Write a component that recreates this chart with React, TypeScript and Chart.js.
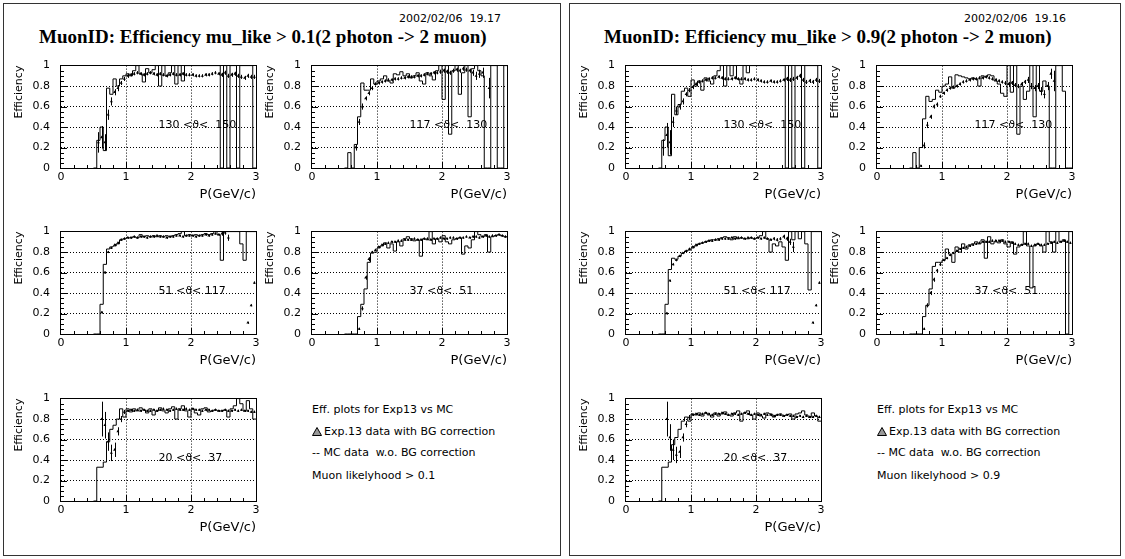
import React, { useEffect, useRef } from 'react';
import { Chart, registerables } from 'chart.js';

Chart.register(...registerables);
Chart.defaults.font.family = "'DejaVu Sans', sans-serif";

// ---------- data ----------
const X_MIN = 0;
const X_MAX = 3;
const BIN_WIDTH = 0.05;
// lower bin edges (GeV/c)
const BIN_LOW = [
  0.50, 0.55, 0.60, 0.65, 0.70, 0.75, 0.80, 0.85, 0.90, 0.95,
  1.00, 1.05, 1.10, 1.15, 1.20, 1.25, 1.30, 1.35, 1.40, 1.45,
  1.50, 1.55, 1.60, 1.65, 1.70, 1.75, 1.80, 1.85, 1.90, 1.95,
  2.00, 2.05, 2.10, 2.15, 2.20, 2.25, 2.30, 2.35, 2.40, 2.45,
  2.50, 2.55, 2.60, 2.65, 2.70, 2.75, 2.80, 2.85, 2.90, 2.95,
];
const X_TICKS = [0, 1, 2, 3];
const Y_TICKS = [0, 0.2, 0.4, 0.6, 0.8, 1];

const THETA_LABELS = ['130 <\u03d1<  150', '117 <\u03d1<  130', '51 <\u03d1< 117', '37 <\u03d1<  51', '20 <\u03d1<  37'];

// ===== mu_like > 0.1 =====
const mc01_130 = [
  0, 0.27, 0.40, 0.17, 0.78, 0.72, 0.87, 0.80, 0.87, 0.90,
  0.92, 0.90, 0.95, 1.00, 0.92, 0.84, 0.97, 0.93, 0.96, 1.00,
  0.80, 1.00, 0.90, 0.93, 1.00, 0.82, 1.00, 0.85, 1.00, 1.00,
  1.00, 1.00, 1.00, 1.00, 1.00, 1.00, 1.00, 1.00, 1.00, 0,
  1.00, 0, 1.00, 1.00, 0, 1.00, 1.00, 1.00, 1.00, 0,
];
const exp01_130 = [
  null, 0.25, 0.30, 0.25, 0.52, 0.65, 0.74, 0.78, 0.83, 0.87,
  0.90, 0.91, 0.92, 0.93, 0.92, 0.91, 0.92, 0.93, 0.92, 0.91,
  0.92, 0.91, 0.90, 0.91, 0.92, 0.91, 0.91, 0.92, 0.91, 0.91,
  0.91, 0.90, 0.90, 0.90, 0.91, 0.91, 0.92, 0.93, 0.92, 0.91,
  0.93, 0.90, 0.91, 0.92, 0.90, 0.89, 0.88, 0.90, 0.89, 0.89,
];
const err01_130 = [
  0, 0.10, 0.11, 0.08, 0.05, 0.04, 0.03, 0.03, 0.02, 0.02,
  0.02, 0.015, 0.015, 0.015, 0.015, 0.015, 0.015, 0.015, 0.015, 0.015,
  0.015, 0.015, 0.015, 0.015, 0.015, 0.015, 0.015, 0.015, 0.015, 0.015,
  0.015, 0.015, 0.015, 0.015, 0.015, 0.015, 0.015, 0.015, 0.015, 0.02,
  0.02, 0.02, 0.02, 0.02, 0.02, 0.02, 0.02, 0.02, 0.02, 0.02,
];

const mc01_117 = [
  0, 0.15, 0, 0.23, 0.50, 0.83, 0.76, 0.76, 0.87, 0.82,
  0.85, 0.87, 0.90, 0.85, 0.83, 0.92, 0.91, 0.94, 0.90, 0.92,
  0.88, 0.90, 0.93, 0.85, 0.82, 0.93, 0.90, 0.86, 0.95, 1.00,
  0.67, 1.00, 0.33, 0.95, 1.00, 0.72, 0.93, 1.00, 0.50, 0.97,
  1.00, 0.95, 0.90, 0, 0, 1.00, 1.00, 0, 0, 1.00,
];
const exp01_117 = [
  null, null, null, 0.20, 0.45, 0.60, 0.68, 0.73, 0.78, 0.82,
  0.83, 0.84, 0.85, 0.86, 0.86, 0.87, 0.87, 0.88, 0.88, 0.89,
  0.89, 0.89, 0.90, 0.90, 0.91, 0.92, 0.92, 0.93, 0.93, 0.94,
  0.95, 0.94, 0.93, 0.95, 0.96, 0.95, 0.97, 0.96, 0.95, 0.93,
  0.90, 0.92, 0.93, null, 0.78, null, null, null, null, null,
];
const err01_117 = [
  0, 0, 0, 0.03, 0.03, 0.03, 0.02, 0.02, 0.02, 0.015,
  0.015, 0.015, 0.015, 0.015, 0.015, 0.015, 0.015, 0.015, 0.015, 0.015,
  0.015, 0.015, 0.015, 0.015, 0.015, 0.015, 0.015, 0.015, 0.015, 0.02,
  0.02, 0.02, 0.02, 0.02, 0.02, 0.02, 0.02, 0.02, 0.02, 0.03,
  0.04, 0.04, 0.05, 0, 0.10, 0, 0, 0, 0, 0,
];

const mc01_51 = [
  0, 0, 0.29, 0.68, 0.83, 0.85, 0.86, 0.88, 0.92, 0.93,
  0.94, 0.94, 0.95, 0.94, 0.97, 0.95, 0.96, 0.95, 0.96, 0.95,
  0.96, 0.95, 0.96, 0.95, 0.96, 0.97, 0.98, 1.00, 0.96, 0.97,
  0.96, 0.97, 0.96, 0.97, 0.98, 0.97, 0.98, 1.00, 0.97, 0.72,
  1.00, 1.00, 1.00, 1.00, 1.00, 0.88, 0.72, 1.00, 1.00, 1.00,
];
const exp01_51 = [
  null, null, 0.21, 0.60, 0.80, 0.84, 0.87, 0.89, 0.92, 0.93,
  0.94, 0.94, 0.95, 0.94, 0.95, 0.95, 0.94, 0.95, 0.95, 0.96,
  0.95, 0.95, 0.94, 0.95, 0.95, 0.96, 0.96, 0.95, 0.96, 0.96,
  0.96, 0.95, 0.96, 0.96, 0.97, 0.96, 0.97, 0.98, 0.97, 0.98,
  0.99, 0.94, null, null, null, null, null, 0.11, 0.28, 0.50,
];
const err01_51 = [
  0, 0, 0.01, 0.01, 0.01, 0.01, 0.01, 0.01, 0.01, 0.01,
  0.01, 0.01, 0.01, 0.01, 0.01, 0.01, 0.01, 0.01, 0.01, 0.01,
  0.01, 0.01, 0.01, 0.01, 0.01, 0.01, 0.01, 0.01, 0.01, 0.01,
  0.01, 0.01, 0.01, 0.01, 0.01, 0.01, 0.01, 0.01, 0.01, 0.02,
  0.02, 0.03, 0, 0, 0, 0, 0, 0.01, 0.01, 0.01,
];

const mc01_37 = [
  0, 0, 0, 0, 0.17, 0.29, 0.44, 0.70, 0.79, 0.80,
  0.84, 0.86, 0.89, 0.84, 0.88, 0.81, 0.90, 0.86, 0.93, 0.95,
  0.93, 0.91, 0.92, 0.76, 0.93, 0.92, 1.00, 0.88, 0.93, 0.90,
  0.96, 0.90, 0.88, 0.92, 0.93, 0.94, 0.78, 0.86, 0.84, 0.92,
  1.00, 0.97, 0.95, 0.97, 0.80, 0.95, 0.96, 0.97, 0.96, 0.95,
];
const exp01_37 = [
  null, null, null, null, 0.05, 0.25, 0.55, 0.73, 0.80, 0.82,
  0.85, 0.87, 0.88, 0.89, 0.90, 0.90, 0.91, 0.91, 0.92, 0.92,
  0.92, 0.93, 0.92, 0.92, 0.93, 0.93, 0.92, 0.93, 0.93, 0.94,
  0.93, 0.93, 0.94, 0.94, 0.93, 0.94, 0.94, 0.95, 0.94, 0.95,
  0.95, 0.94, 0.95, 0.96, 0.95, 0.96, 0.96, 0.97, 0.96, 0.95,
];
const err01_37 = [
  0, 0, 0, 0, 0.01, 0.02, 0.02, 0.02, 0.01, 0.01,
  0.01, 0.01, 0.01, 0.01, 0.01, 0.01, 0.01, 0.01, 0.01, 0.01,
  0.01, 0.01, 0.01, 0.01, 0.01, 0.01, 0.01, 0.01, 0.01, 0.01,
  0.01, 0.01, 0.01, 0.01, 0.01, 0.01, 0.01, 0.01, 0.01, 0.01,
  0.01, 0.01, 0.01, 0.01, 0.01, 0.01, 0.01, 0.01, 0.01, 0.01,
];

const mc01_20 = [
  0, 0.33, 0.33, 0.38, 0.58, 0.70, 0.74, 0.80, 0.90, 0.82,
  0.90, 0.87, 0.90, 0.88, 0.91, 0.89, 0.86, 0.90, 0.84, 0.88,
  0.91, 0.88, 0.86, 0.90, 0.92, 0.80, 0.90, 0.93, 0.88, 0.82,
  0.90, 0.86, 0.84, 0.90, 0.91, 0.87, 0.88, 0.89, 0.88, 0.88,
  0.89, 0.82, 0.90, 0.93, 1.00, 0.95, 0.88, 0.98, 0.90, 0.80,
];
const exp01_20 = [
  null, null, 0.80, 0.74, 0.58, 0.47, 0.50, 0.68, 0.80, 0.87,
  0.88, 0.89, 0.88, 0.89, 0.88, 0.89, 0.88, 0.88, 0.89, 0.88,
  0.89, 0.90, 0.89, 0.88, 0.89, 0.90, 0.89, 0.89, 0.90, 0.89,
  0.90, 0.89, 0.89, 0.88, 0.89, 0.89, 0.88, 0.89, 0.88, 0.88,
  0.89, 0.88, 0.88, 0.89, 0.88, 0.89, 0.88, 0.88, 0.87, 0.87,
];
const err01_20 = [
  0, 0, 0.17, 0.13, 0.09, 0.08, 0.07, 0.04, 0.03, 0.02,
  0.01, 0.01, 0.01, 0.01, 0.01, 0.01, 0.01, 0.01, 0.01, 0.01,
  0.01, 0.01, 0.01, 0.01, 0.01, 0.01, 0.01, 0.01, 0.01, 0.01,
  0.01, 0.01, 0.01, 0.01, 0.01, 0.01, 0.01, 0.01, 0.01, 0.01,
  0.01, 0.01, 0.01, 0.01, 0.01, 0.01, 0.01, 0.01, 0.01, 0.01,
];

// ===== mu_like > 0.9 =====
const mc09_130 = [
  0, 0.27, 0.40, 0.12, 0.72, 0.52, 0.62, 0.75, 0.78, 0.70,
  0.86, 0.80, 0.85, 0.76, 0.88, 0.85, 0.82, 0.90, 0.95, 1.00,
  0.80, 1.00, 0.90, 1.00, 0.87, 0.82, 1.00, 0.93, 1.00, 1.00,
  1.00, 1.00, 1.00, 1.00, 1.00, 1.00, 1.00, 1.00, 1.00, 0,
  1.00, 0, 1.00, 1.00, 0, 1.00, 1.00, 1.00, 1.00, 0,
];
const exp09_130 = [
  null, 0.20, 0.32, 0.25, 0.45, 0.56, 0.60, 0.65, 0.72, 0.76,
  0.79, 0.82, 0.84, 0.85, 0.86, 0.87, 0.88, 0.88, 0.89, 0.88,
  0.87, 0.87, 0.87, 0.88, 0.87, 0.87, 0.87, 0.86, 0.86, 0.87,
  0.86, 0.85, 0.84, 0.84, 0.85, 0.84, 0.84, 0.85, 0.86, 0.87,
  0.86, 0.87, 0.88, 0.90, 0.86, 0.84, 0.85, 0.84, 0.86, 0.85,
];
const err09_130 = [
  0, 0.08, 0.12, 0.12, 0.05, 0.04, 0.03, 0.03, 0.02, 0.02,
  0.02, 0.015, 0.015, 0.015, 0.015, 0.015, 0.015, 0.015, 0.015, 0.015,
  0.015, 0.015, 0.015, 0.015, 0.015, 0.015, 0.015, 0.015, 0.015, 0.015,
  0.015, 0.015, 0.015, 0.015, 0.015, 0.015, 0.015, 0.015, 0.015, 0.02,
  0.02, 0.02, 0.02, 0.02, 0.02, 0.02, 0.02, 0.02, 0.02, 0.02,
];

const mc09_117 = [
  0, 0.15, 0, 0.20, 0.48, 0.70, 0.65, 0.67, 0.76, 0.74,
  0.80, 0.82, 0.89, 0.78, 0.91, 0.90, 0.89, 0.88, 0.87, 0.88,
  0.87, 0.80, 0.90, 0.89, 0.91, 0.90, 0.85, 0.82, 0.73, 0.70,
  1.00, 0.74, 1.00, 0.33, 0.80, 0.67, 0.75, 1.00, 0.50, 1.00,
  0.75, 0.85, 0.80, 0, 0, 1.00, 1.00, 0.75, 0, 0,
];
const exp09_117 = [
  null, null, null, 0.02, 0.22, 0.42, 0.50, 0.60, 0.62, 0.70,
  0.73, 0.76, 0.78, 0.79, 0.80, 0.82, 0.84, 0.85, 0.86, 0.87,
  0.87, 0.88, 0.88, 0.89, 0.88, 0.87, 0.86, 0.85, 0.84, 0.83,
  0.82, 0.83, 0.81, 0.80, 0.82, 0.84, 0.86, 0.80, 0.78, 0.80,
  0.75, 0.72, 0.80, 0.92, 0.85, null, null, null, null, null,
];
const err09_117 = [
  0, 0, 0, 0.01, 0.03, 0.03, 0.02, 0.02, 0.02, 0.015,
  0.015, 0.015, 0.015, 0.015, 0.015, 0.015, 0.015, 0.015, 0.015, 0.015,
  0.015, 0.015, 0.015, 0.015, 0.015, 0.015, 0.015, 0.015, 0.015, 0.02,
  0.02, 0.02, 0.02, 0.02, 0.02, 0.02, 0.03, 0.03, 0.03, 0.03,
  0.04, 0.04, 0.04, 0.05, 0.10, 0, 0, 0, 0, 0,
];

const mc09_51 = [
  0, 0, 0.29, 0.63, 0.74, 0.73, 0.76, 0.79, 0.81, 0.82,
  0.84, 0.86, 0.88, 0.89, 0.90, 0.91, 0.92, 0.92, 0.93, 0.94,
  0.95, 0.94, 0.92, 0.95, 0.93, 0.94, 0.93, 0.93, 0.94, 0.93,
  0.94, 0.96, 1.00, 0.93, 0.80, 0.88, 0.86, 0.90, 0.85, 0.72,
  1.00, 0.92, 1.00, 0.93, 1.00, 0.88, 0.43, 1.00, 1.00, 1.00,
];
const exp09_51 = [
  null, null, 0.20, 0.52, 0.68, 0.72, 0.76, 0.79, 0.81, 0.83,
  0.85, 0.87, 0.88, 0.89, 0.90, 0.91, 0.91, 0.92, 0.92, 0.93,
  0.93, 0.93, 0.94, 0.93, 0.94, 0.94, 0.93, 0.94, 0.94, 0.93,
  0.94, 0.93, 0.94, 0.93, 0.92, 0.93, 0.92, 0.93, 0.95, 0.93,
  0.90, 0.85, null, null, null, null, null, 0.11, 0.28, 0.50,
];
const err09_51 = [
  0, 0, 0.01, 0.01, 0.01, 0.01, 0.01, 0.01, 0.01, 0.01,
  0.01, 0.01, 0.01, 0.01, 0.01, 0.01, 0.01, 0.01, 0.01, 0.01,
  0.01, 0.01, 0.01, 0.01, 0.01, 0.01, 0.01, 0.01, 0.01, 0.01,
  0.01, 0.01, 0.01, 0.01, 0.01, 0.015, 0.015, 0.015, 0.02, 0.02,
  0.03, 0.05, 0, 0, 0, 0, 0, 0.01, 0.01, 0.01,
];

const mc09_37 = [
  0, 0, 0, 0, 0.17, 0.28, 0.44, 0.66, 0.70, 0.70,
  0.72, 0.83, 0.78, 0.70, 0.85, 0.80, 0.88, 0.83, 0.87, 0.88,
  0.90, 0.88, 0.92, 0.74, 0.95, 0.88, 0.90, 0.89, 0.92, 0.88,
  0.85, 0.90, 0.78, 0.85, 0.87, 1.00, 0.86, 0.45, 0.86, 0.88,
  0.86, 0.80, 1.00, 0.90, 0.80, 1.00, 0.90, 0.92, 0, 1.00,
];
const exp09_37 = [
  null, null, null, null, 0.05, 0.28, 0.40, 0.53, 0.62, 0.68,
  0.72, 0.74, 0.77, 0.79, 0.81, 0.83, 0.84, 0.85, 0.86, 0.87,
  0.88, 0.89, 0.90, 0.90, 0.90, 0.91, 0.91, 0.91, 0.91, 0.90,
  0.90, 0.89, 0.88, 0.87, 0.87, 0.88, 0.88, 0.86, 0.87, 0.88,
  0.87, 0.87, 0.88, 0.89, 0.90, 0.89, 0.90, 0.91, 0.90, 0.89,
];
const err09_37 = [
  0, 0, 0, 0, 0.01, 0.02, 0.02, 0.02, 0.015, 0.015,
  0.01, 0.01, 0.01, 0.01, 0.01, 0.01, 0.01, 0.01, 0.01, 0.01,
  0.01, 0.01, 0.01, 0.01, 0.01, 0.01, 0.01, 0.01, 0.01, 0.01,
  0.01, 0.01, 0.01, 0.01, 0.01, 0.01, 0.01, 0.01, 0.01, 0.01,
  0.01, 0.01, 0.01, 0.01, 0.01, 0.01, 0.01, 0.01, 0.01, 0.01,
];

const mc09_20 = [
  0, 0.33, 0.33, 0.38, 0.55, 0.62, 0.70, 0.78, 0.82, 0.78,
  0.85, 0.84, 0.86, 0.83, 0.86, 0.84, 0.82, 0.86, 0.83, 0.85,
  0.87, 0.84, 0.83, 0.86, 0.88, 0.78, 0.86, 0.88, 0.84, 0.80,
  0.86, 0.83, 0.81, 0.86, 0.85, 0.82, 0.84, 0.85, 0.83, 0.84,
  0.85, 0.80, 0.85, 0.86, 0.88, 0.84, 0.82, 0.86, 0.83, 0.78,
];
const exp09_20 = [
  null, null, 0.80, 0.62, 0.50, 0.45, 0.48, 0.62, 0.75, 0.82,
  0.84, 0.85, 0.84, 0.85, 0.86, 0.85, 0.84, 0.85, 0.85, 0.86,
  0.85, 0.84, 0.85, 0.85, 0.84, 0.85, 0.86, 0.85, 0.84, 0.85,
  0.84, 0.84, 0.85, 0.84, 0.84, 0.83, 0.84, 0.84, 0.83, 0.84,
  0.83, 0.83, 0.82, 0.83, 0.82, 0.83, 0.82, 0.82, 0.83, 0.82,
];
const err09_20 = [
  0, 0, 0.17, 0.13, 0.10, 0.08, 0.06, 0.04, 0.03, 0.02,
  0.01, 0.01, 0.01, 0.01, 0.01, 0.01, 0.01, 0.01, 0.01, 0.01,
  0.01, 0.01, 0.01, 0.01, 0.01, 0.01, 0.01, 0.01, 0.01, 0.01,
  0.01, 0.01, 0.01, 0.01, 0.01, 0.01, 0.01, 0.01, 0.01, 0.01,
  0.01, 0.01, 0.01, 0.01, 0.01, 0.01, 0.01, 0.01, 0.01, 0.01,
];

// ---------- layout ----------
const AXIS_W = 48; // y-axis box width
const AXIS_H = 36; // x-axis box height
const PLOT_W = 195;
const PLOT_H = 110;
const PAD_T = 10;
const PAD_R = 10;

type Sub = { label: string; mc: number[]; exp: (number | null)[]; err: number[]; left: number; top: number };

const GRID_POS = [
  [61, 58], [312, 58], [61, 224], [312, 224], [61, 391],
];

function buildSubs(offset: number, sets: [number[], (number | null)[], number[]][]): Sub[] {
  return sets.map((s, i) => ({
    label: THETA_LABELS[i], mc: s[0], exp: s[1], err: s[2],
    left: GRID_POS[i][0] + offset, top: GRID_POS[i][1],
  }));
}

const SUBS_01 = buildSubs(0, [
  [mc01_130, exp01_130, err01_130],
  [mc01_117, exp01_117, err01_117],
  [mc01_51, exp01_51, err01_51],
  [mc01_37, exp01_37, err01_37],
  [mc01_20, exp01_20, err01_20],
]);
const SUBS_09 = buildSubs(565, [
  [mc09_130, exp09_130, err09_130],
  [mc09_117, exp09_117, err09_117],
  [mc09_51, exp09_51, err09_51],
  [mc09_37, exp09_37, err09_37],
  [mc09_20, exp09_20, err09_20],
]);

const hbookPlugin = {
  id: 'hbook',
  afterDatasetsDraw(chart: any) {
    const { ctx, scales } = chart;
    const x = scales.x, y = scales.y;
    const ds = chart.data.datasets[1];
    ctx.save();
    ctx.strokeStyle = '#000';
    ctx.lineWidth = 1;
    ds.data.forEach((pt: any) => {
      if (!pt.e) return;
      const px = Math.round(x.getPixelForValue(pt.x)) + 0.5;
      ctx.beginPath();
      ctx.moveTo(px, y.getPixelForValue(Math.max(0, pt.y - pt.e)));
      ctx.lineTo(px, y.getPixelForValue(Math.min(1, pt.y + pt.e)));
      ctx.stroke();
    });
    ctx.restore();
  },
  afterDraw(chart: any, _args: any, opts: any) {
    const { ctx, chartArea: a, scales } = chart;
    const x = scales.x, y = scales.y;
    ctx.save();
    ctx.strokeStyle = '#000';
    ctx.lineWidth = 1;
    ctx.strokeRect(Math.round(a.left) - 0.5, Math.round(a.top) - 0.5, Math.round(a.right - a.left) + 1, Math.round(a.bottom - a.top) + 1);
    ctx.beginPath();
    // x ticks every 0.2, inward
    for (let k = 1; k < 15; k++) {
      const v = k * 0.2;
      const major = Math.abs(v - Math.round(v)) < 1e-6;
      const px = Math.round(x.getPixelForValue(v)) + 0.5;
      ctx.moveTo(px, a.bottom);
      ctx.lineTo(px, a.bottom - (major ? 6 : 3));
    }
    // y ticks every 0.05, inward
    for (let k = 1; k < 20; k++) {
      const v = k * 0.05;
      const major = k % 4 === 0;
      const py = Math.round(y.getPixelForValue(v)) + 0.5;
      ctx.moveTo(a.left, py);
      ctx.lineTo(a.left + (major ? 6 : 3), py);
    }
    ctx.stroke();
    if (opts && opts.label) {
      ctx.fillStyle = '#000';
      ctx.font = "11px 'DejaVu Sans', sans-serif";
      ctx.textBaseline = 'alphabetic';
      ctx.textAlign = 'left';
      ctx.fillText(opts.label, x.getPixelForValue(1.5), y.getPixelForValue(0.4) + 1);
    }
    ctx.restore();
  },
};

function HistoPlot({ sub }: { sub: Sub }) {
  const ref = useRef<HTMLCanvasElement>(null);
  const cw = AXIS_W + PLOT_W + PAD_R;
  const chh = PAD_T + PLOT_H + AXIS_H;
  useEffect(() => {
    if (!ref.current) return;
    const mcPts = BIN_LOW.map((bx, i) => ({ x: bx, y: sub.mc[i] }));
    mcPts.push({ x: X_MAX, y: sub.mc[sub.mc.length - 1] });
    const expPts: any[] = [];
    BIN_LOW.forEach((bx, i) => {
      const v = sub.exp[i];
      if (v !== null && v !== undefined) expPts.push({ x: bx + BIN_WIDTH / 2, y: v, e: sub.err[i] });
    });
    const gridColor = (lo: number, hi: number) => (c: any) => {
      const v = c.tick ? c.tick.value : lo;
      return v > lo + 1e-6 && v < hi - 1e-6 ? '#000' : 'rgba(0,0,0,0)';
    };
    const tickFont = { family: "'DejaVu Sans', sans-serif", size: 11 };
    const chart = new Chart(ref.current, {
      type: 'scatter',
      data: {
        datasets: [
          {
            type: 'line', data: mcPts, stepped: 'before', borderColor: '#000', borderWidth: 1,
            pointRadius: 0, fill: false, tension: 0,
          } as any,
          {
            type: 'scatter', data: expPts, pointStyle: 'triangle', pointRadius: 1.7,
            backgroundColor: '#000', borderColor: '#000', borderWidth: 0,
          } as any,
        ],
      },
      options: {
        responsive: false,
        animation: false,
        events: [],
        layout: { padding: { top: PAD_T, right: PAD_R, left: 0, bottom: 0 } },
        plugins: {
          legend: { display: false },
          tooltip: { enabled: false },
          hbook: { label: sub.label },
        } as any,
        scales: {
          x: {
            type: 'linear', min: X_MIN, max: X_MAX,
            afterFit: (s: any) => { s.height = AXIS_H; },
            afterBuildTicks: (s: any) => { s.ticks = X_TICKS.map((v) => ({ value: v })); },
            ticks: { color: '#000', padding: 3, maxRotation: 0, font: tickFont, callback: (v: any) => String(Math.round(Number(v) * 10) / 10) },
            grid: { color: gridColor(X_MIN, X_MAX), drawTicks: false, lineWidth: 1 },
            border: { display: false, dash: [1, 2] },
            title: {
              display: true, text: 'P(GeV/c)', align: 'end', color: '#000',
              font: { family: "'DejaVu Sans', sans-serif", size: 13 }, padding: { top: 0, bottom: 2 },
            },
          },
          y: {
            type: 'linear', min: 0, max: 1,
            afterFit: (s: any) => { s.width = AXIS_W; },
            afterBuildTicks: (s: any) => { s.ticks = Y_TICKS.map((v) => ({ value: v })); },
            ticks: { color: '#000', padding: 11, font: tickFont, callback: (v: any) => String(Math.round(Number(v) * 10) / 10) },
            grid: { color: gridColor(0, 1), drawTicks: false, lineWidth: 1 },
            border: { display: false, dash: [1, 2] },
            title: {
              display: true, text: 'Efficiency', align: 'end', color: '#000',
              font: { family: "'DejaVu Sans', sans-serif", size: 11 }, padding: { top: 0, bottom: 0 },
            },
          },
        },
      } as any,
      plugins: [hbookPlugin as any],
    });
    return () => chart.destroy();
  }, [sub]);
  return (
    <canvas
      ref={ref}
      width={cw}
      height={chh}
      style={{ position: 'absolute', left: sub.left - AXIS_W, top: sub.top - PAD_T, width: cw, height: chh }}
    />
  );
}

const Triangle = () => (
  <svg width="10" height="9" style={{ verticalAlign: '-1px', marginRight: 2 }}>
    <polygon points="5,0.5 9.5,8.5 0.5,8.5" fill="#999" stroke="#000" strokeWidth="1" />
  </svg>
);

function PanelText({ offset, cut, date, titleLeft }: { offset: number; cut: string; date: string; titleLeft: number }) {
  const small: React.CSSProperties = {
    position: 'absolute', fontFamily: "'DejaVu Sans', sans-serif", fontSize: 11, lineHeight: '14px',
    whiteSpace: 'pre', color: '#000',
  };
  const lx = 312 + offset;
  return (
    <>
      <div style={{ ...small, left: 399 + offset, top: 12 }}>{date}</div>
      <div
        style={{
          position: 'absolute', left: titleLeft, top: 27, fontFamily: "'Liberation Serif', 'Times New Roman', serif",
          fontWeight: 'bold', fontSize: 19, lineHeight: '20px', whiteSpace: 'pre', color: '#000',
        }}
      >
        {`MuonID: Efficiency mu_like > ${cut}(2 photon -> 2 muon)`}
      </div>
      <div style={{ ...small, left: lx, top: 403 }}>Eff. plots for Exp13 vs MC</div>
      <div style={{ ...small, left: lx, top: 425 }}><Triangle />Exp.13 data with BG correction</div>
      <div style={{ ...small, left: lx, top: 446 }}>{'-- MC data  w.o. BG correction'}</div>
      <div style={{ ...small, left: lx, top: 469 }}>{`Muon likelyhood > ${cut}`}</div>
    </>
  );
}

export default function App() {
  return (
    <div style={{ position: 'absolute', left: 0, top: 0, width: 1125, height: 559, background: '#fff', overflow: 'hidden' }}>
      <div style={{ position: 'absolute', left: 3, top: 3, width: 558, height: 553, border: '1px solid #333', boxSizing: 'border-box' }} />
      <div style={{ position: 'absolute', left: 569, top: 3, width: 552, height: 553, border: '1px solid #333', boxSizing: 'border-box' }} />
      <PanelText offset={0} cut="0.1" date="2002/02/06  19.17" titleLeft={39} />
      <PanelText offset={565} cut="0.9" date="2002/02/06  19.16" titleLeft={604} />
      {SUBS_01.map((s, i) => <HistoPlot key={'a' + i} sub={s} />)}
      {SUBS_09.map((s, i) => <HistoPlot key={'b' + i} sub={s} />)}
    </div>
  );
}
